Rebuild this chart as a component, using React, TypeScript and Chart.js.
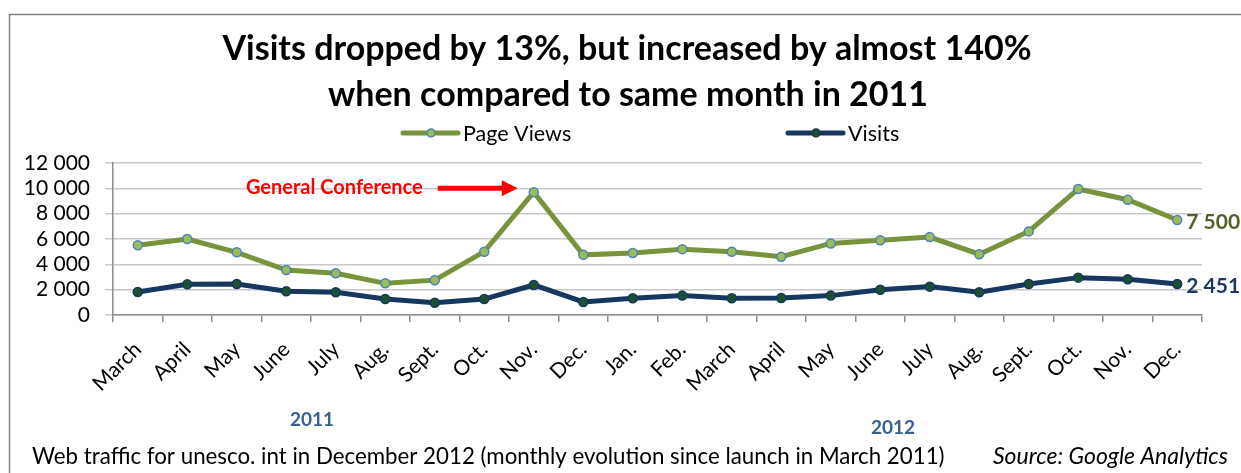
import React, { useEffect, useRef } from 'react';
import { Chart, registerables } from 'chart.js';

Chart.register(...registerables);

const months = ['March', 'April', 'May', 'June', 'July', 'Aug.', 'Sept.', 'Oct.', 'Nov.', 'Dec.', 'Jan.', 'Feb.', 'March', 'April', 'May', 'June', 'July', 'Aug.', 'Sept.', 'Oct.', 'Nov.', 'Dec.'];
const pageViews = [5500, 6000, 4950, 3550, 3300, 2500, 2750, 5000, 9700, 4750, 4900, 5200, 5000, 4600, 5650, 5900, 6150, 4800, 6600, 9950, 9100, 7500];
const visits = [1820, 2420, 2450, 1870, 1790, 1260, 970, 1260, 2370, 1030, 1320, 1530, 1320, 1340, 1530, 2000, 2240, 1790, 2450, 2950, 2820, 2451];
const seriesNames = ['Page Views', 'Visits'];
const yMin = 0;
const yMax = 12000;
const yStep = 2000;
const titleLines = ['Visits dropped by 13%, but increased by almost 140%', 'when compared to same month in 2011'];
const yearLabels = ['2011', '2012'];
const annotationText = 'General Conference';
const footerText = 'Web traffic for unesco. int in December 2012 (monthly evolution since launch in March 2011)';
const sourceText = 'Source: Google Analytics';

const PV_LINE = '#77933c';
const PV_FILL = '#9bbb59';
const PV_BORDER = '#4f81bd';
const V_LINE = '#17375e';
const V_FILL = '#1d5030';
const V_BORDER = '#17375e';
const FONT = 'Lato, "Open Sans", sans-serif';

const fmt = (v: number) => String(v).replace(/\B(?=(\d{3})+(?!\d))/g, ' ');

const decorPlugin = {
  id: 'decor',
  afterDraw(chart: any) {
    const ctx = chart.ctx as CanvasRenderingContext2D;
    const W = chart.width;
    const H = chart.height;
    ctx.save();

    // frame
    ctx.strokeStyle = '#7f7f7f';
    ctx.lineWidth = 1.5;
    ctx.beginPath();
    ctx.moveTo(9.5, H);
    ctx.lineTo(9.5, 14.5);
    ctx.lineTo(W, 14.5);
    ctx.stroke();

    // title
    ctx.fillStyle = '#000';
    ctx.textAlign = 'center';
    ctx.textBaseline = 'alphabetic';
    ctx.font = `bold 34px ${FONT}`;
    ctx.fillText(titleLines[0], 627, 60);
    ctx.fillText(titleLines[1], 628, 106);

    // legend
    const drawLegend = (x: number, label: string, line: string, fill: string, border: string) => {
      const y = 133;
      ctx.strokeStyle = line;
      ctx.lineWidth = 5;
      ctx.lineCap = 'round';
      ctx.beginPath();
      ctx.moveTo(x, y);
      ctx.lineTo(x + 55, y);
      ctx.stroke();
      ctx.beginPath();
      ctx.arc(x + 28, y, 4, 0, Math.PI * 2);
      ctx.fillStyle = fill;
      ctx.fill();
      ctx.lineWidth = 1.5;
      ctx.strokeStyle = border;
      ctx.stroke();
      ctx.fillStyle = '#000';
      ctx.font = `21.5px ${FONT}`;
      ctx.textAlign = 'left';
      ctx.textBaseline = 'middle';
      ctx.fillText(label, x + 60, y + 1);
    };
    drawLegend(403, seriesNames[0], PV_LINE, PV_FILL, PV_BORDER);
    drawLegend(788, seriesNames[1], V_LINE, V_FILL, V_BORDER);

    // end-value labels
    const m0 = chart.getDatasetMeta(0);
    const m1 = chart.getDatasetMeta(1);
    const last0 = m0.data[m0.data.length - 1];
    const last1 = m1.data[m1.data.length - 1];
    ctx.font = `bold 21px ${FONT}`;
    ctx.textAlign = 'left';
    ctx.textBaseline = 'middle';
    ctx.fillStyle = '#4f6228';
    ctx.fillText(fmt(pageViews[pageViews.length - 1]), last0.x + 9, last0.y + 2);
    ctx.fillStyle = '#1f3864';
    ctx.fillText(fmt(visits[visits.length - 1]), last1.x + 9, last1.y + 2);

    // General Conference annotation pointing at the peak
    const peak = m0.data[8];
    const ay = peak.y - 4;
    const tipX = peak.x - 16;
    ctx.fillStyle = '#ff0000';
    ctx.strokeStyle = '#ff0000';
    ctx.lineWidth = 5;
    ctx.lineCap = 'butt';
    ctx.beginPath();
    ctx.moveTo(tipX - 80, ay);
    ctx.lineTo(tipX - 14, ay);
    ctx.stroke();
    ctx.beginPath();
    ctx.moveTo(tipX, ay);
    ctx.lineTo(tipX - 16, ay - 8);
    ctx.lineTo(tipX - 16, ay + 8);
    ctx.closePath();
    ctx.fill();
    ctx.font = `bold 20px ${FONT}`;
    ctx.textAlign = 'right';
    ctx.textBaseline = 'middle';
    ctx.fillText(annotationText, tipX - 95, ay - 1);

    // year labels
    ctx.fillStyle = '#376092';
    ctx.font = `bold 19px ${FONT}`;
    ctx.textAlign = 'center';
    ctx.fillText(yearLabels[0], 312, 420);
    ctx.fillText(yearLabels[1], 893, 428);

    // footer
    ctx.fillStyle = '#000';
    ctx.font = `22.3px ${FONT}`;
    ctx.textAlign = 'left';
    ctx.fillText(footerText, 32, 457);
    ctx.font = `italic 23px ${FONT}`;
    ctx.textAlign = 'right';
    ctx.fillText(sourceText, 1228, 457);

    ctx.restore();
  },
};

export default function App() {
  const ref = useRef<HTMLCanvasElement | null>(null);
  useEffect(() => {
    document.body.style.margin = '0';
    const canvas = ref.current;
    if (!canvas) return;
    Chart.defaults.font.family = FONT;
    const chart = new Chart(canvas, {
      type: 'line',
      data: {
        labels: months,
        datasets: [
          {
            label: seriesNames[0],
            data: pageViews,
            borderColor: PV_LINE,
            borderWidth: 5,
            pointRadius: 4.5,
            pointBorderWidth: 1.5,
            pointBackgroundColor: PV_FILL,
            pointBorderColor: PV_BORDER,
            tension: 0,
          },
          {
            label: seriesNames[1],
            data: visits,
            borderColor: V_LINE,
            borderWidth: 5,
            pointRadius: 4.5,
            pointBorderWidth: 1.5,
            pointBackgroundColor: V_FILL,
            pointBorderColor: V_BORDER,
            tension: 0,
          },
        ],
      },
      options: {
        animation: false,
        responsive: false,
        maintainAspectRatio: false,
        layout: { padding: { top: 163, right: 39, bottom: 0, left: 0 } },
        plugins: {
          legend: { display: false },
          title: { display: false },
          tooltip: { enabled: false },
        },
        scales: {
          x: {
            offset: true,
            grid: {
              display: true,
              drawOnChartArea: false,
              drawTicks: true,
              tickLength: 7,
              offset: true,
              color: '#8c8c8c',
              lineWidth: 1.5,
            },
            border: { display: true, color: '#8c8c8c', width: 1.5 },
            ticks: {
              maxRotation: 45,
              minRotation: 45,
              autoSkip: false,
              color: '#000',
              font: { size: 21, family: FONT },
              padding: 15,
            },
            afterFit: (s: any) => {
              s.height = 158;
            },
          },
          y: {
            min: yMin,
            max: yMax,
            ticks: {
              stepSize: yStep,
              autoSkip: false,
              color: '#000',
              font: { size: 21, family: FONT },
              padding: 15,
              callback: (v: any) => fmt(Number(v)),
            },
            grid: { color: '#c8c8c8', lineWidth: 1.5, tickLength: 8, drawTicks: true },
            border: { display: true, color: '#8c8c8c', width: 1.5 },
            afterFit: (s: any) => {
              s.width = 113;
            },
          },
        },
      },
      plugins: [decorPlugin],
    });
    return () => chart.destroy();
  }, []);
  return (
    <div style={{ width: 1241, height: 473, position: 'relative', background: '#fff' }}>
      <canvas ref={ref} width={1241} height={473} style={{ display: 'block', width: 1241, height: 473 }} />
    </div>
  );
}
